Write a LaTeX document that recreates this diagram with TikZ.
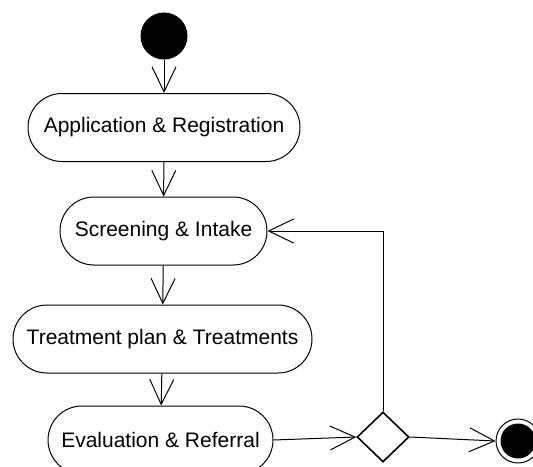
\documentclass[tikz,border=0pt]{standalone}
\usepackage{fontspec}
\setmainfont{Liberation Sans}
\usetikzlibrary{arrows.meta,shapes.geometric,positioning}

\begin{document}
\begin{tikzpicture}[x=1pt,y=1pt,line width=0.5pt,
	act/.style={draw,rounded corners=17pt,minimum height=34pt,inner sep=0pt,font=\fontsize{10.5}{12}\selectfont},
	flow/.style={-{Straight Barb[length=12.5pt,width=12pt]}},
	decide/.style={draw,diamond,minimum width=26pt,minimum height=25pt,inner sep=0pt,line width=0.8pt}]
	\useasboundingbox (0,0) rectangle (266.5,-233);
	\clip (0,0) rectangle (266.5,-233);
	\node[circle,fill=black,draw,minimum size=23pt,inner sep=0pt] (start) at (82,-18) {};
	\node[act,minimum width=136pt] (app) at (82,-63.75) {Application \& Registration};
	\node[act,minimum width=103.5pt] (scr) at (81.75,-115.5) {Screening \& Intake};
	\node[act,minimum width=149.5pt] (trt) at (81.25,-169.5) {Treatment plan \& Treatments};
	\node[act,minimum width=112.5pt] (eval) at (80.25,-220) {Evaluation \& Referral};
	\node[decide] (dec) at (191.5,-218.5) {};
	\node[circle,draw,minimum size=22pt,inner sep=0pt] (stop) at (259,-220.5) {};
	\node[circle,fill=black,minimum size=17.5pt,inner sep=0pt] (stopdot) at (stop.center) {};
	\draw[flow] (start) -- (app);
	\draw[flow] (app) -- (scr);
	\draw[flow] (scr) -- (trt);
	\draw[flow] (trt) -- (eval);
	\draw[flow] (eval.east) -- (dec.west);
	\draw[flow] (dec.east) -- (stop.west);
	\draw[flow] (dec.north) |- (scr.east);
\end{tikzpicture}
\end{document}
